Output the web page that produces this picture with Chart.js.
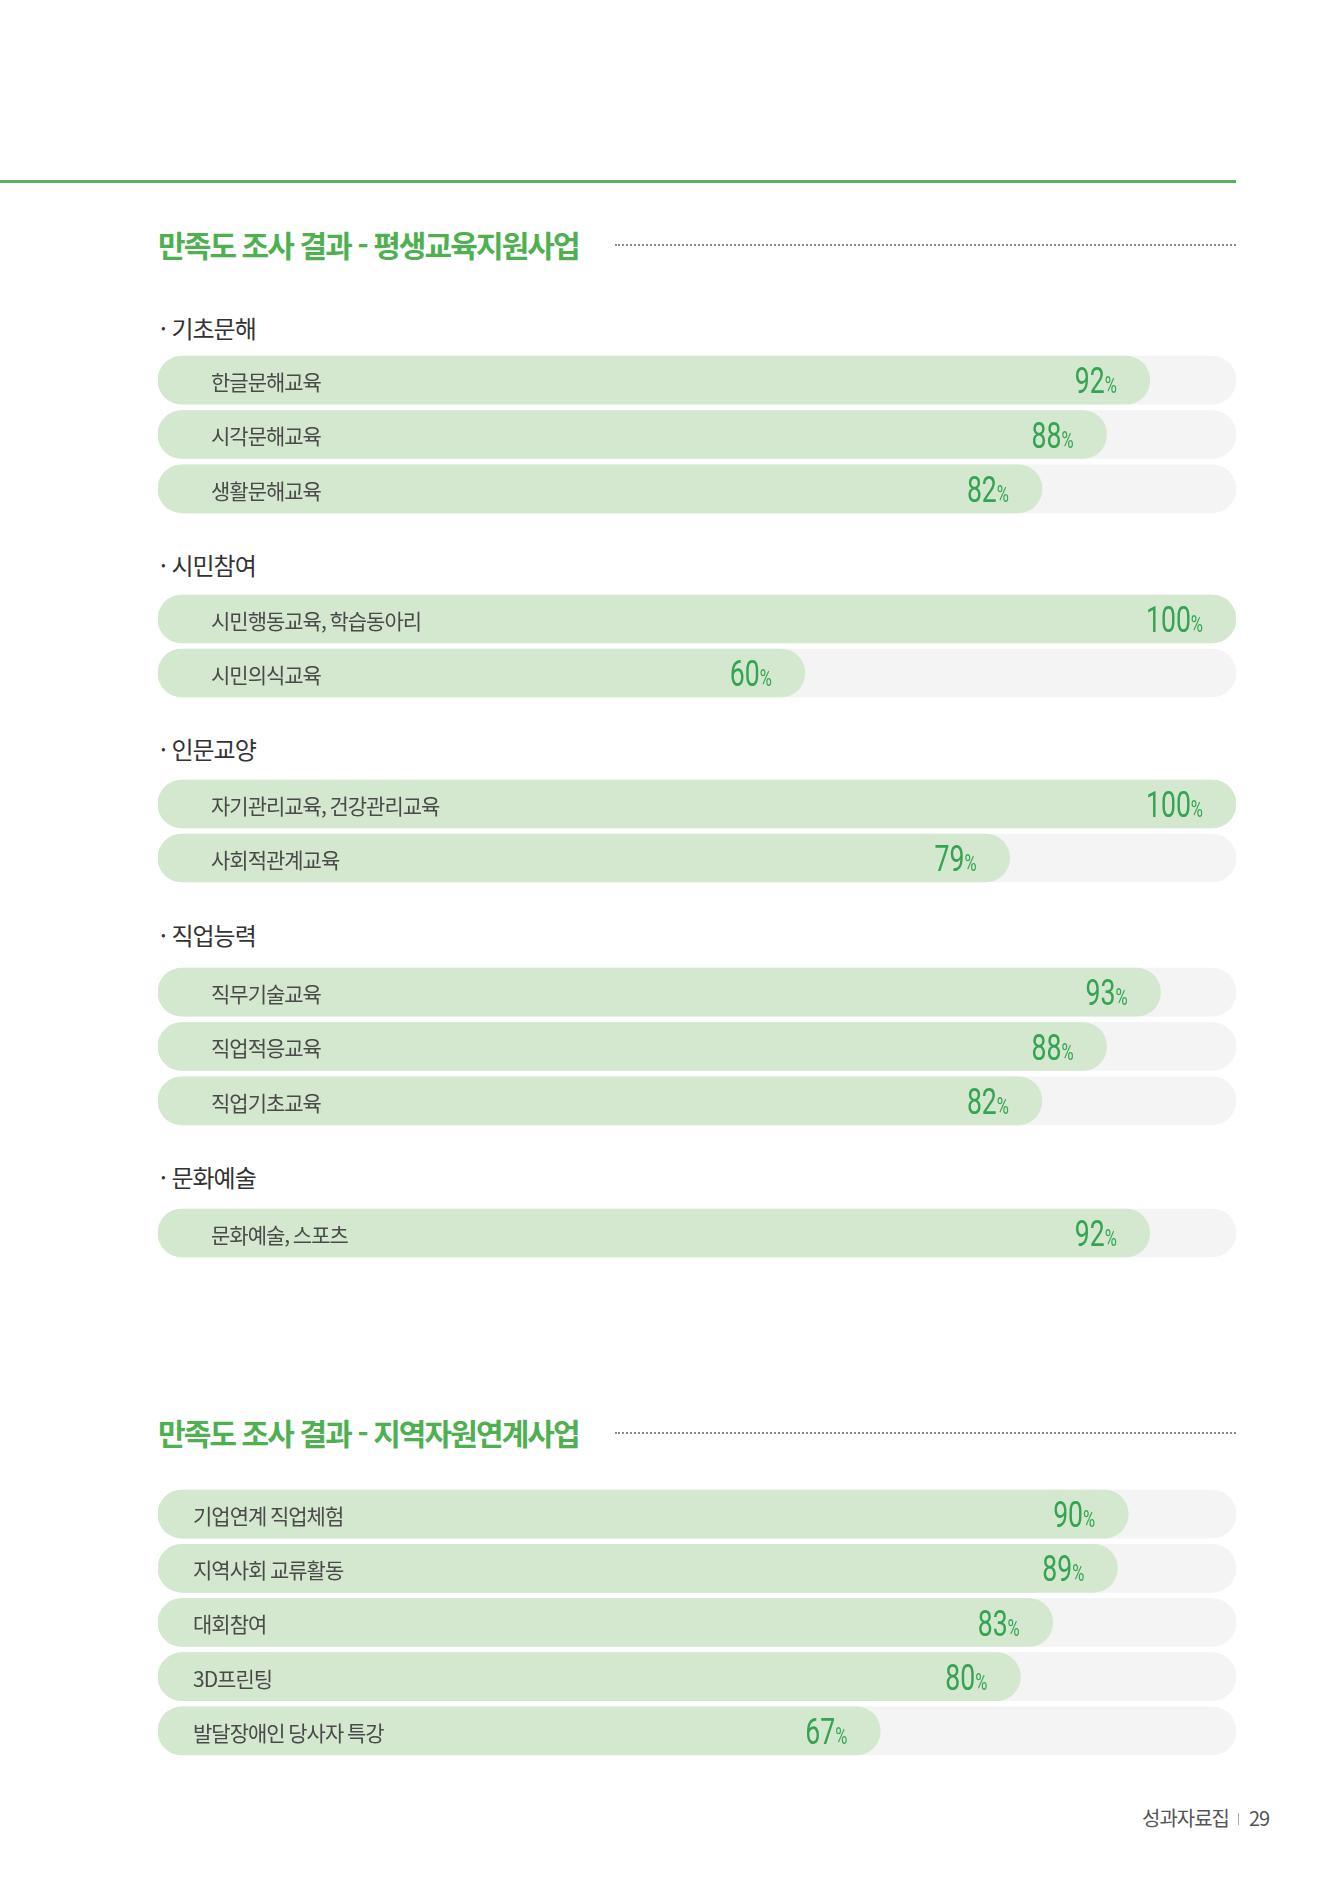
<!DOCTYPE html>
<html lang="ko">
<head>
<meta charset="utf-8">
<script src="https://cdn.jsdelivr.net/npm/chart.js@4.4.1/dist/chart.umd.min.js"></script>
<style>
  body { margin: 0; background: #fff; }
  #page { position: relative; width: 1338px; height: 1889px; overflow: hidden; font-family: "Noto Sans CJK KR", "Noto Sans", sans-serif; }
  .topline { position: absolute; left: 0; top: 180px; width: 1236px; height: 3px; background: #5cb25c; }
  .title { position: absolute; left: 158px; transform: translateY(-50%); font-size: 30px; font-weight: 700; color: #4fb052; letter-spacing: -1.9px; white-space: nowrap; }
  .dots { position: absolute; left: 615px; width: 621px; border-top: 2px dotted #8a8a8a; }
  .section { position: absolute; left: 160px; transform: translateY(-50%); font-size: 24px; color: #333; letter-spacing: -1px; }
  .box { position: absolute; left: 158px; width: 1078px; }
  .footer { position: absolute; left: 1142px; top: 1803px; font-size: 20px; color: #555; letter-spacing: -1px; }
  .footer span { display: inline-block; width: 1px; height: 12px; background: #aaa; margin: 0 10px 0 9px; vertical-align: 1px; }
</style>
</head>
<body>
<div id="page">
  <div class="topline"></div>

  <div class="title" style="top:244px">만족도 조사 결과 - 평생교육지원사업</div>
  <div class="dots" style="top:244px"></div>

  <div class="section" style="top:327px">· 기초문해</div>
  <div class="box" style="top:353px;height:163px"><canvas id="literacyChart" width="1078" height="163"></canvas></div>

  <div class="section" style="top:564px">· 시민참여</div>
  <div class="box" style="top:592px;height:108px"><canvas id="civicChart" width="1078" height="108"></canvas></div>

  <div class="section" style="top:748px">· 인문교양</div>
  <div class="box" style="top:777px;height:108px"><canvas id="humanChart" width="1078" height="108"></canvas></div>

  <div class="section" style="top:934px">· 직업능력</div>
  <div class="box" style="top:965px;height:163px"><canvas id="jobChart" width="1078" height="163"></canvas></div>

  <div class="section" style="top:1176px">· 문화예술</div>
  <div class="box" style="top:1206px;height:54px"><canvas id="cultureChart" width="1078" height="54"></canvas></div>

  <div class="title" style="top:1432px">만족도 조사 결과 - 지역자원연계사업</div>
  <div class="dots" style="top:1432px"></div>

  <div class="box" style="top:1487px;height:271px"><canvas id="regionChart" width="1078" height="271"></canvas></div>

  <div class="footer">성과자료집<span></span>29</div>
</div>

<script>
// 평생교육지원사업
const literacyLabels = ["한글문해교육", "시각문해교육", "생활문해교육"];
const literacyValues = [92, 88, 82];

const civicLabels = ["시민행동교육, 학습동아리", "시민의식교육"];
const civicValues = [100, 60];

const humanLabels = ["자기관리교육, 건강관리교육", "사회적관계교육"];
const humanValues = [100, 79];

const jobLabels = ["직무기술교육", "직업적응교육", "직업기초교육"];
const jobValues = [93, 88, 82];

const cultureLabels = ["문화예술, 스포츠"];
const cultureValues = [92];

// 지역자원연계사업
const regionLabels = ["기업연계 직업체험", "지역사회 교류활동", "대회참여", "3D프린팅", "발달장애인 당사자 특강"];
const regionValues = [90, 89, 83, 80, 67];

const maxValue = 100;

// draws the row name inside the bar and the big green percent near the bar end
const barTextPlugin = {
  id: "barText",
  afterDatasetsDraw(chart, args, opts) {
    const ctx = chart.ctx;
    const meta = chart.getDatasetMeta(0);
    ctx.save();
    meta.data.forEach((bar, i) => {
      const y = bar.y;
      ctx.fillStyle = "#4a4a4a";
      ctx.font = '21px "Noto Sans CJK KR"';
      ctx.letterSpacing = "-1px";
      ctx.textAlign = "left";
      ctx.textBaseline = "middle";
      ctx.fillText(chart.data.labels[i], chart.chartArea.left + opts.labelInset, y + 2);
      ctx.letterSpacing = "0px";

      // condensed number + small %
      ctx.save();
      ctx.translate(bar.x - 33, y + 13);
      ctx.scale(0.72, 1);
      ctx.fillStyle = "#34a452";
      ctx.textAlign = "right";
      ctx.textBaseline = "alphabetic";
      ctx.font = '23px Roboto';
      ctx.fillText("%", 0, 0);
      const pw = ctx.measureText("%").width;
      ctx.font = '37px Roboto';
      ctx.fillText(String(chart.data.datasets[0].data[i]), -pw, 0);
      ctx.restore();
    });
    ctx.restore();
  },
};

function makeBars(id, labels, values, labelInset) {
  const ctx = document.getElementById(id).getContext("2d");
  return new Chart(ctx, {
    type: "bar",
    data: {
      labels: labels,
      datasets: [
        {
          data: values,
          backgroundColor: "#d4e7cf",
          borderRadius: 24,
          borderSkipped: false,
          barThickness: 48,
          grouped: false,
        },
        {
          data: labels.map(() => maxValue),
          backgroundColor: "#f4f4f4",
          borderRadius: 24,
          borderSkipped: false,
          barThickness: 48,
          grouped: false,
        },
      ],
    },
    options: {
      indexAxis: "y",
      responsive: false,
      animation: false,
      devicePixelRatio: 1,
      layout: { padding: 0 },
      scales: {
        x: { min: 0, max: maxValue, display: false },
        y: { display: false },
      },
      plugins: {
        legend: { display: false },
        tooltip: { enabled: false },
        barText: { labelInset: labelInset },
      },
    },
    plugins: [barTextPlugin],
  });
}

makeBars("literacyChart", literacyLabels, literacyValues, 53);
makeBars("civicChart", civicLabels, civicValues, 53);
makeBars("humanChart", humanLabels, humanValues, 53);
makeBars("jobChart", jobLabels, jobValues, 53);
makeBars("cultureChart", cultureLabels, cultureValues, 53);
makeBars("regionChart", regionLabels, regionValues, 35);
</script>
</body>
</html>
